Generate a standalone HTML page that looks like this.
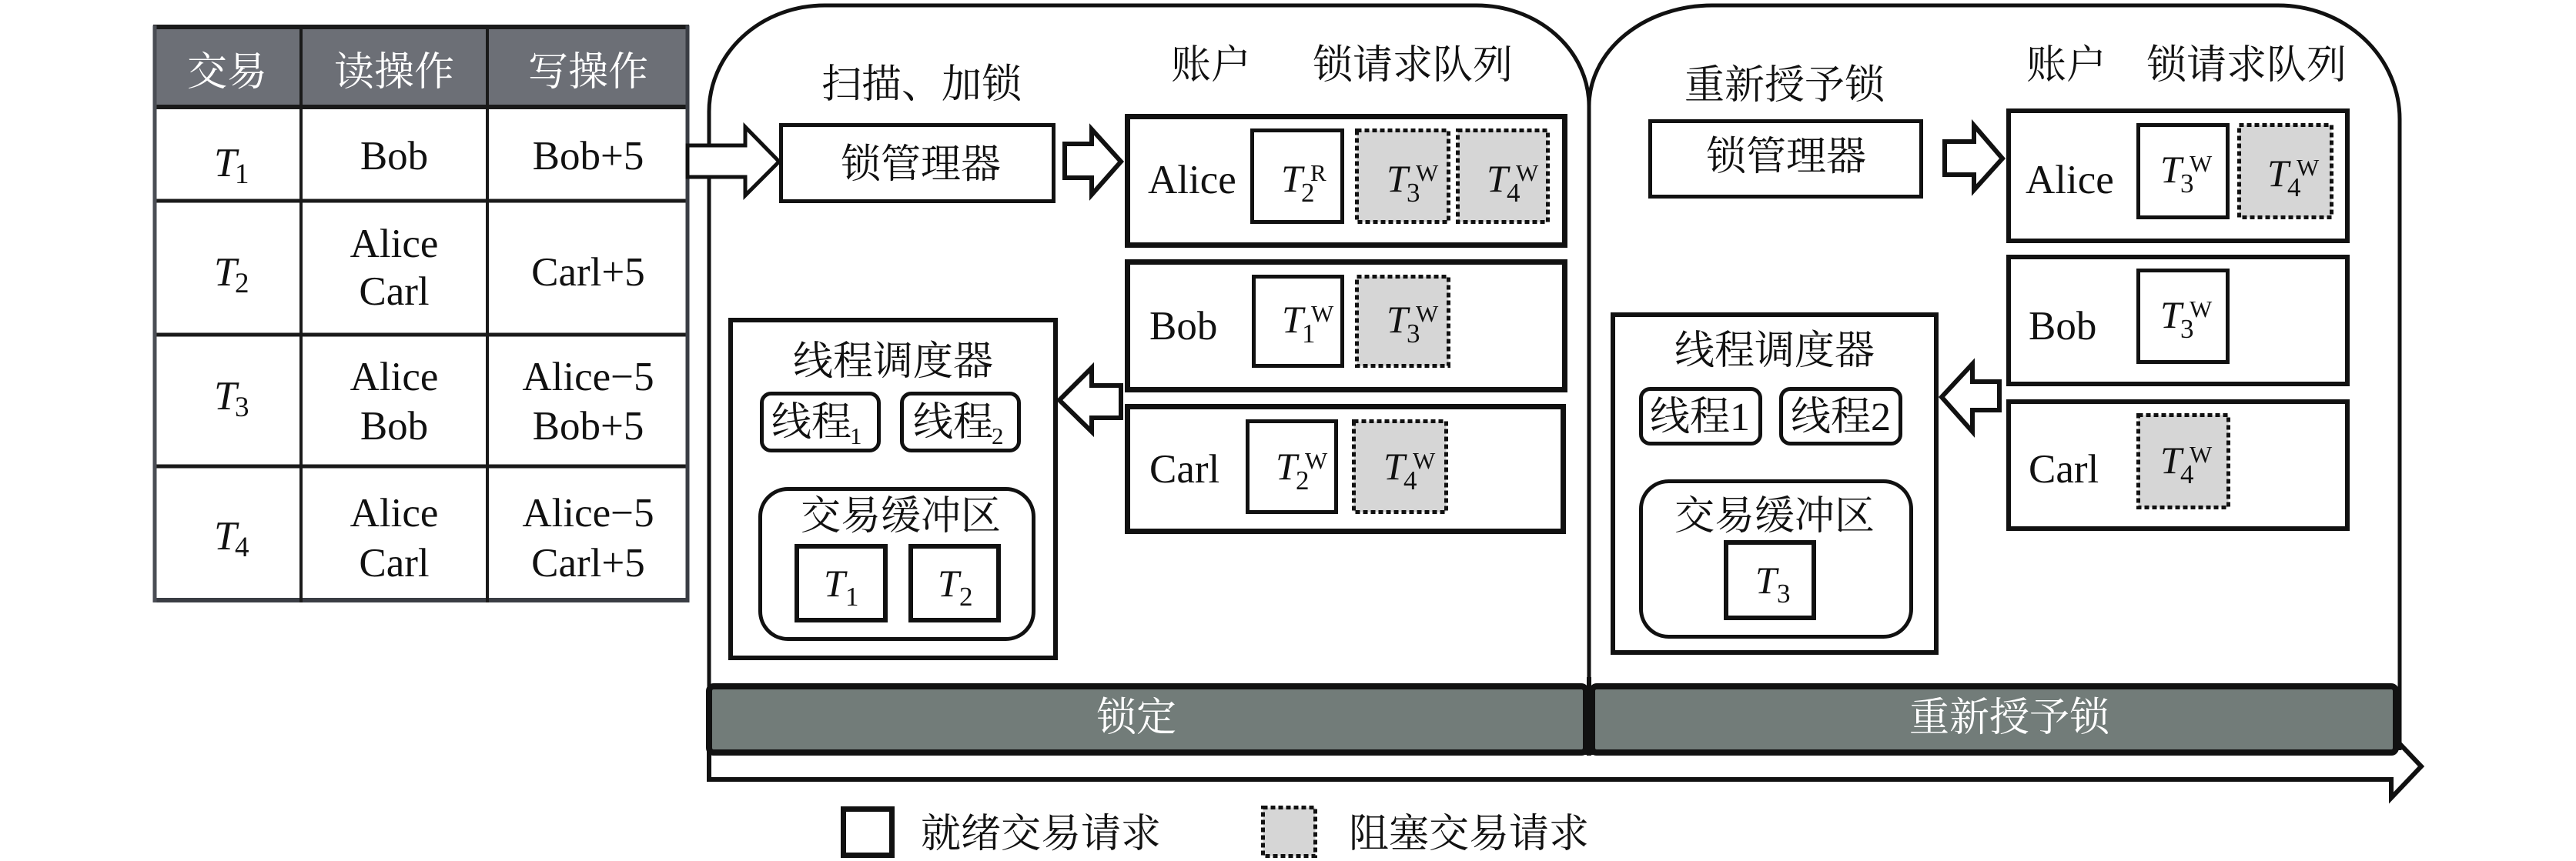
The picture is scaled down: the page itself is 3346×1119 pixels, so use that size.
<!DOCTYPE html>
<html><head><meta charset="utf-8">
<style>
html,body{margin:0;padding:0;background:#fff;}
svg{display:block;}
text{font-family:"Liberation Serif","Noto Serif CJK SC","Noto Serif CJK JP",serif;fill:#111;}
.cn{font-size:52px;}
.rm{font-size:53px;}
.ti{font-size:50px;font-style:italic;}
.sb{font-size:35px;}
.sp{font-size:31px;}
.wt{fill:#fff;}
</style></head>
<body>
<svg width="3346" height="1119" viewBox="0 0 3346 1119" xmlns="http://www.w3.org/2000/svg" font-family="'Liberation Serif','Noto Serif CJK SC','Noto Serif CJK JP',serif">
<rect x="0" y="0" width="3346" height="1119" fill="#fff"/>

<!-- TABLE -->
<rect x="199" y="33" width="696" height="106" fill="#6c6f76"/>
<g stroke="#1a1a1a" fill="none">
  <line x1="199" y1="35" x2="895" y2="35" stroke-width="6"/>
  <line x1="199" y1="139" x2="895" y2="139" stroke-width="6"/>
  <line x1="199" y1="261" x2="895" y2="261" stroke-width="5"/>
  <line x1="199" y1="435" x2="895" y2="435" stroke-width="5"/>
  <line x1="199" y1="606" x2="895" y2="606" stroke-width="5"/>
  <line x1="199" y1="780" x2="895" y2="780" stroke-width="6" stroke="#3a3d44"/>
  <line x1="201" y1="33" x2="201" y2="783" stroke-width="5" stroke="#4a4d54"/>
  <line x1="391" y1="33" x2="391" y2="783" stroke-width="4"/>
  <line x1="633" y1="33" x2="633" y2="783" stroke-width="4"/>
  <line x1="893" y1="33" x2="893" y2="783" stroke-width="5" stroke="#3a3d44"/>
</g>
<text class="cn wt" x="295" y="111" text-anchor="middle">交易</text>
<text class="cn wt" x="512" y="111" text-anchor="middle">读操作</text>
<text class="cn wt" x="764" y="111" text-anchor="middle">写操作</text>

<text class="ti" x="278" y="229" style="font-size:53px">T</text><text class="sb" x="305" y="238" style="font-size:37px">1</text>
<text class="ti" x="278" y="371" style="font-size:53px">T</text><text class="sb" x="305" y="380" style="font-size:37px">2</text>
<text class="ti" x="278" y="532" style="font-size:53px">T</text><text class="sb" x="305" y="541" style="font-size:37px">3</text>
<text class="ti" x="278" y="714" style="font-size:53px">T</text><text class="sb" x="305" y="723" style="font-size:37px">4</text>

<g text-anchor="middle">
<text class="rm" x="512" y="220">Bob</text>
<text class="rm" x="764" y="220">Bob+5</text>
<text class="rm" x="512" y="334">Alice</text>
<text class="rm" x="512" y="396">Carl</text>
<text class="rm" x="764" y="371">Carl+5</text>
<text class="rm" x="512" y="507">Alice</text>
<text class="rm" x="512" y="571">Bob</text>
<text class="rm" x="764" y="507">Alice−5</text>
<text class="rm" x="764" y="571">Bob+5</text>
<text class="rm" x="512" y="684">Alice</text>
<text class="rm" x="512" y="749">Carl</text>
<text class="rm" x="764" y="684">Alice−5</text>
<text class="rm" x="764" y="749">Carl+5</text>
</g>

<!-- BOTTOM LONG ARROW -->
<polygon points="921,978 3106,978 3106,955 3145,996 3106,1037 3106,1013 921,1013" fill="#fff" stroke="#111" stroke-width="6" stroke-linejoin="miter"/>

<!-- PANELS -->
<path d="M 921 1016 L 921 145 A 150 138 0 0 1 1071 7 L 1918 7 A 146 131 0 0 1 2064 138 L 2064 978" fill="none" stroke="#111" stroke-width="5"/>
<path d="M 2064 138 A 160 131 0 0 1 2224 7 L 2959 7 A 158 148 0 0 1 3117 155 L 3117 975" fill="none" stroke="#111" stroke-width="5"/>

<!-- GRAY BARS -->
<rect x="921" y="892" width="1139" height="86" rx="6" fill="#727c79" stroke="#111" stroke-width="8"/>
<rect x="2068" y="892" width="1044" height="86" rx="6" fill="#727c79" stroke="#111" stroke-width="8"/>
<line x1="2064" y1="880" x2="2064" y2="982" stroke="#111" stroke-width="6"/>
<text class="cn wt" x="1476" y="950" text-anchor="middle">锁定</text>
<text class="cn wt" x="2610" y="950" text-anchor="middle">重新授予锁</text>

<!-- INPUT ARROW -->
<polygon points="893,189 968,189 968,165 1012,210 968,254 968,230 893,230" fill="#fff" stroke="#111" stroke-width="5"/>

<!-- PANEL 1 CONTENT -->
<text class="cn" x="1197" y="127" text-anchor="middle">扫描、加锁</text>
<rect x="1014.5" y="162.5" width="354" height="99" fill="#fff" stroke="#111" stroke-width="5"/>
<text class="cn" x="1196" y="231" text-anchor="middle">锁管理器</text>
<polygon points="1383,187 1418,187 1418,168 1456,210 1418,253 1418,231 1383,231" fill="#fff" stroke="#111" stroke-width="6"/>

<text class="cn" x="1573" y="102" text-anchor="middle">账户</text>
<text class="cn" x="1835" y="102" text-anchor="middle">锁请求队列</text>

<rect x="1464.5" y="151.5" width="568" height="167" fill="#fff" stroke="#111" stroke-width="7"/>
<rect x="1464.5" y="340.5" width="568" height="166" fill="#fff" stroke="#111" stroke-width="7"/>
<rect x="1464.5" y="528.5" width="566" height="162" fill="#fff" stroke="#111" stroke-width="7"/>
<text class="rm" x="1491" y="251">Alice</text>
<text class="rm" x="1493" y="441">Bob</text>
<text class="rm" x="1493" y="627">Carl</text>

<!-- p1 request boxes -->
<rect x="1626.5" y="169.5" width="117" height="119" fill="#fff" stroke="#111" stroke-width="5"/>
<rect x="1762.5" y="169.5" width="119" height="119" fill="#d6d6d6" stroke="#111" stroke-width="5" stroke-dasharray="6 4"/>
<rect x="1893.5" y="169.5" width="117" height="119" fill="#d6d6d6" stroke="#111" stroke-width="5" stroke-dasharray="6 4"/>
<rect x="1628.5" y="359.5" width="115" height="116" fill="#fff" stroke="#111" stroke-width="5"/>
<rect x="1762.5" y="359.5" width="119" height="116" fill="#d6d6d6" stroke="#111" stroke-width="5" stroke-dasharray="6 4"/>
<rect x="1620.5" y="547.5" width="115" height="118" fill="#fff" stroke="#111" stroke-width="5"/>
<rect x="1758.5" y="547.5" width="120" height="118" fill="#d6d6d6" stroke="#111" stroke-width="5" stroke-dasharray="6 4"/>

<text class="ti" x="1664" y="249">T</text><text class="sb" x="1690" y="262">2</text><text class="sp" x="1702" y="235">R</text>
<text class="ti" x="1801" y="249">T</text><text class="sb" x="1827" y="262">3</text><text class="sp" x="1839" y="235">W</text>
<text class="ti" x="1931" y="249">T</text><text class="sb" x="1957" y="262">4</text><text class="sp" x="1969" y="235">W</text>
<text class="ti" x="1665" y="432">T</text><text class="sb" x="1691" y="445">1</text><text class="sp" x="1703" y="418">W</text>
<text class="ti" x="1801" y="432">T</text><text class="sb" x="1827" y="445">3</text><text class="sp" x="1839" y="418">W</text>
<text class="ti" x="1657" y="623">T</text><text class="sb" x="1683" y="636">2</text><text class="sp" x="1695" y="609">W</text>
<text class="ti" x="1797" y="623">T</text><text class="sb" x="1823" y="636">4</text><text class="sp" x="1835" y="609">W</text>

<polygon points="1456,501 1418,501 1418,478 1376,520 1418,561 1418,543 1456,543" fill="#fff" stroke="#111" stroke-width="6"/>

<rect x="949" y="416" width="422" height="439" fill="#fff" stroke="#111" stroke-width="6"/>
<text class="cn" x="1160" y="487" text-anchor="middle">线程调度器</text>
<rect x="989.5" y="511.5" width="152" height="74" rx="12" fill="#fff" stroke="#111" stroke-width="5"/>
<rect x="1171.5" y="511.5" width="152" height="74" rx="12" fill="#fff" stroke="#111" stroke-width="5"/>
<text class="cn" x="1002" y="566">线程</text><text class="sb" x="1104" y="577" style="font-size:31px">1</text>
<text class="cn" x="1186" y="566">线程</text><text class="sb" x="1288" y="577" style="font-size:31px">2</text>

<rect x="987.5" y="635.5" width="355" height="195" rx="36" fill="#fff" stroke="#111" stroke-width="5"/>
<text class="cn" x="1170" y="688" text-anchor="middle">交易缓冲区</text>
<rect x="1035" y="710" width="115" height="96" fill="#fff" stroke="#111" stroke-width="6"/>
<rect x="1183" y="710" width="114" height="96" fill="#fff" stroke="#111" stroke-width="6"/>
<text class="ti" x="1070" y="775">T</text><text class="sb" x="1098" y="787">1</text>
<text class="ti" x="1218" y="775">T</text><text class="sb" x="1246" y="787">2</text>

<!-- PANEL 2 CONTENT -->
<text class="cn" x="2318" y="128" text-anchor="middle">重新授予锁</text>
<rect x="2143.5" y="157.5" width="352" height="98" fill="#fff" stroke="#111" stroke-width="5"/>
<text class="cn" x="2320" y="221" text-anchor="middle">锁管理器</text>
<polygon points="2526,184 2564,184 2564,163 2601,206 2564,247 2564,227 2526,227" fill="#fff" stroke="#111" stroke-width="6"/>

<text class="cn" x="2684" y="102" text-anchor="middle">账户</text>
<text class="cn" x="2918" y="102" text-anchor="middle">锁请求队列</text>

<rect x="2609" y="144" width="440" height="169" fill="#fff" stroke="#111" stroke-width="6"/>
<rect x="2609" y="334" width="440" height="165" fill="#fff" stroke="#111" stroke-width="6"/>
<rect x="2609" y="522" width="440" height="165" fill="#fff" stroke="#111" stroke-width="6"/>
<text class="rm" x="2631" y="251">Alice</text>
<text class="rm" x="2635" y="441">Bob</text>
<text class="rm" x="2635" y="627">Carl</text>

<rect x="2777.5" y="162.5" width="116" height="120" fill="#fff" stroke="#111" stroke-width="5"/>
<rect x="2908.5" y="162.5" width="120" height="120" fill="#d6d6d6" stroke="#111" stroke-width="5" stroke-dasharray="6 4"/>
<rect x="2777.5" y="351.5" width="116" height="119" fill="#fff" stroke="#111" stroke-width="5"/>
<rect x="2777.5" y="539.5" width="117" height="120" fill="#d6d6d6" stroke="#111" stroke-width="5" stroke-dasharray="6 4"/>

<text class="ti" x="2806" y="237">T</text><text class="sb" x="2832" y="250">3</text><text class="sp" x="2844" y="223">W</text>
<text class="ti" x="2945" y="242">T</text><text class="sb" x="2971" y="255">4</text><text class="sp" x="2983" y="228">W</text>
<text class="ti" x="2806" y="426">T</text><text class="sb" x="2832" y="439">3</text><text class="sp" x="2844" y="412">W</text>
<text class="ti" x="2806" y="615">T</text><text class="sb" x="2832" y="628">4</text><text class="sp" x="2844" y="601">W</text>

<polygon points="2597,496 2562,496 2562,473 2522,516 2562,561 2562,533 2597,533" fill="#fff" stroke="#111" stroke-width="6"/>

<rect x="2095" y="409" width="420" height="439" fill="#fff" stroke="#111" stroke-width="6"/>
<text class="cn" x="2305" y="473" text-anchor="middle">线程调度器</text>
<rect x="2131.5" y="505.5" width="155" height="71" rx="12" fill="#fff" stroke="#111" stroke-width="5"/>
<rect x="2313.5" y="505.5" width="155" height="71" rx="12" fill="#fff" stroke="#111" stroke-width="5"/>
<text class="cn" x="2143" y="559">线程1</text>
<text class="cn" x="2326" y="559">线程2</text>

<rect x="2131.5" y="625.5" width="351" height="202" rx="36" fill="#fff" stroke="#111" stroke-width="5"/>
<text class="cn" x="2305" y="688" text-anchor="middle">交易缓冲区</text>
<rect x="2242" y="705" width="114" height="98" fill="#fff" stroke="#111" stroke-width="6"/>
<text class="ti" x="2280" y="771">T</text><text class="sb" x="2308" y="783">3</text>

<!-- LEGEND -->
<rect x="1095.5" y="1051.5" width="63" height="60" fill="#fff" stroke="#111" stroke-width="7"/>
<text class="cn" x="1196" y="1101">就绪交易请求</text>
<rect x="1640.5" y="1049.5" width="68" height="63" fill="#d6d6d6" stroke="#111" stroke-width="5" stroke-dasharray="6 4"/>
<text class="cn" x="1752" y="1101">阻塞交易请求</text>
</svg>
</body></html>
